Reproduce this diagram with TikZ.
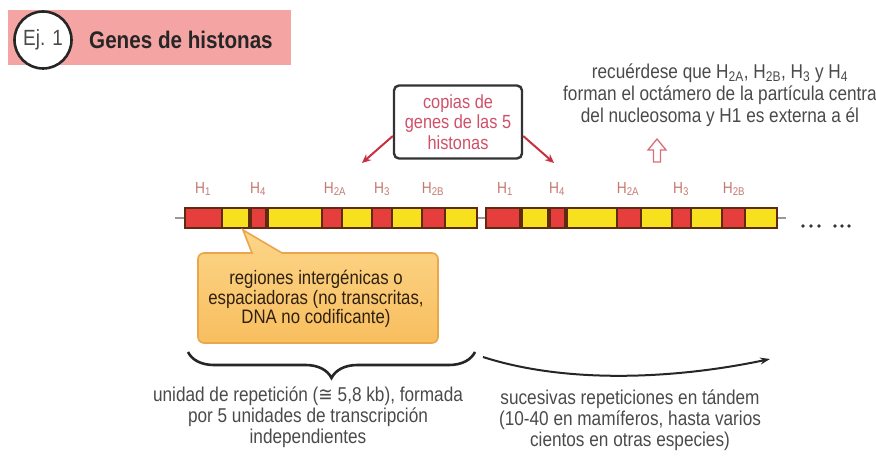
\documentclass[tikz,border=0pt]{standalone}
\usepackage{fontspec}
\setmainfont{Liberation Sans}[FakeStretch=0.86]
\newfontfamily\symfont{DejaVu Sans}[FakeStretch=0.86]
\usetikzlibrary{arrows.meta,decorations.pathreplacing,shapes.geometric}
\definecolor{titlepink}{HTML}{F4A4A2}
\definecolor{genered}{HTML}{E63E3C}
\definecolor{geneyellow}{HTML}{F7E01E}
\definecolor{genedark}{HTML}{5E2A12}
\definecolor{labelcol}{HTML}{C47A70}
\definecolor{copcol}{HTML}{D0506A}
\definecolor{arrred}{HTML}{C83040}
\definecolor{txtgray}{HTML}{4A4A4A}
\definecolor{callfillA}{HTML}{FCD68A}
\definecolor{callfillB}{HTML}{F8BE5E}
\definecolor{callborder}{HTML}{EBA54A}
\newcommand\hs[1]{H\textsubscript{#1}}
\begin{document}
\begin{tikzpicture}[x=1pt,y=-1pt,
  hlabel/.style={text=labelcol,font=\fontsize{16}{18}\selectfont,inner sep=0pt},
  bodytext/.style={text=txtgray,align=center,font=\fontsize{20}{21}\selectfont,inner sep=0pt},
  genebox/.style={fill=genered,draw=genedark,line width=1.3pt},
  spacerbar/.style={fill=geneyellow,draw=genedark,line width=1.3pt},
  linker/.style={draw=gray!80,line width=1.6pt},
  redarrow/.style={draw=arrred,line width=2pt,-{Stealth[length=9pt,width=8pt]}},
  dot/.style={circle,fill=black!80,inner sep=0pt,minimum size=3.6pt},
]
\useasboundingbox (0,0) rectangle (876,457);
% title
\fill[titlepink] (8,10) rectangle (291,65);
\node[circle,draw=black!85,line width=2.6pt,fill=white,minimum size=57pt,inner sep=0pt,
  font=\fontsize{22}{24}\selectfont,text=txtgray] (ej) at (43,40) {Ej. 1};
\node[font=\fontsize{24}{26}\selectfont\bfseries,text=black!85,anchor=west,inner sep=0pt] (title) at (89,40) {Genes de histonas};
% bars
\draw[linker] (175,218) -- (185,218);
\draw[linker] (477,218) -- (487,218);
\draw[linker] (777,218) -- (786,218);
\draw[spacerbar] (185,208) rectangle (477,228);
\draw[spacerbar] (486,208) rectangle (777,228);
\foreach \a/\b in {185/222,322/342,372/392,422/445,486/522,617/641,672/691,722/745}{
  \draw[genebox] (\a,208) rectangle (\b,228);}
\foreach \a/\b in {249/268,548/567}{
  \draw[genebox] (\a,208) rectangle (\b,228);
  \fill[genedark] (\a,208) rectangle ({\a+3},228);
  \fill[genedark] ({\b-3},208) rectangle (\b,228);}
\fill[genedark] (519,208) rectangle (522,228);
\draw[genedark,line width=1.3pt] (185,208) rectangle (477,228);
\draw[genedark,line width=1.3pt] (486,208) rectangle (777,228);
% labels
\node[hlabel] (a1) at (203,189) {\hs{1}};
\node[hlabel] (a4) at (258,189) {\hs{4}};
\node[hlabel] (a2a) at (335,189) {\hs{2A}};
\node[hlabel] (a3) at (382,189) {\hs{3}};
\node[hlabel] (a2b) at (433,189) {\hs{2B}};
\node[hlabel] (b1) at (505,189) {\hs{1}};
\node[hlabel] (b4) at (557,189) {\hs{4}};
\node[hlabel] (b2a) at (628,189) {\hs{2A}};
\node[hlabel] (b3) at (681,189) {\hs{3}};
\node[hlabel] (b2b) at (734,189) {\hs{2B}};
\foreach \x [count=\i] in {803,811,819,835,842,849}{\node[dot] (d\i) at (\x,226) {};}
% copias box
\node[draw=black!80,line width=2.4pt,rounded corners=5pt,fill=white,minimum width=128pt,minimum height=73pt,
  text=copcol,align=center,font=\fontsize{19}{20.5}\selectfont,inner sep=1pt] (cop) at (458,122) {copias de\\genes de las 5\\histonas};
\coordinate (tipL) at (362,163);
\coordinate (tipR) at (554,163);
\draw[redarrow] (cop.west |- 0,136) -- (tipL);
\draw[redarrow] (cop.east |- 0,136) -- (tipR);
% top right note
\node[bodytext,font=\fontsize{20}{22}\selectfont] (note) at (720,95) {recuérdese que \hs{2A}, \hs{2B}, \hs{3} y \hs{4}\\forman el octámero de la partícula centra\\del nucleosoma y H1 es externa a él};
\draw[draw=arrred!70,fill=white,line width=1.3pt,line join=miter] (657,139) -- (666,150) -- (660.5,150) -- (660.5,162) -- (653.5,162) -- (653.5,150) -- (648,150) -- cycle;
% callout
\draw[top color=callfillA,bottom color=callfillB,draw=callborder,line width=1.6pt]
  (243,230) -- (252,253) [rounded corners=6pt] -- (198,253) -- (198,343) -- (438,343) -- (438,253) [sharp corners] -- (282,253) -- cycle;
\node[text=black!75!brown,align=center,font=\fontsize{19.5}{19.5}\selectfont,inner sep=0pt] (call) at (316,299)
  {regiones intergénicas o\\espaciadoras (no transcritas,\\DNA no codificante)};
% brace
\coordinate (brL) at (188,352);
\coordinate (brR) at (475,352);
\draw[black!85,line width=2.6pt,decorate,decoration={brace,mirror,amplitude=26pt}] (brL) -- (brR);
\node[bodytext] (unit) at (308,417) {unidad de repetición ({\symfont ≅} 5,8 kb), formada\\por 5 unidades de transcripción\\independientes};
% long arrow
\coordinate (laS) at (483,357);
\coordinate (laE) at (770,359);
\draw[black!85,line width=2pt,-{Stealth[length=10pt,width=7pt]}] (laS) .. controls (570,385) and (680,378) .. (laE);
\node[bodytext] (tandem) at (630,420) {sucesivas repeticiones en tándem\\(10-40 en mamíferos, hasta varios\\cientos en otras especies)};
\end{tikzpicture}
\end{document}
